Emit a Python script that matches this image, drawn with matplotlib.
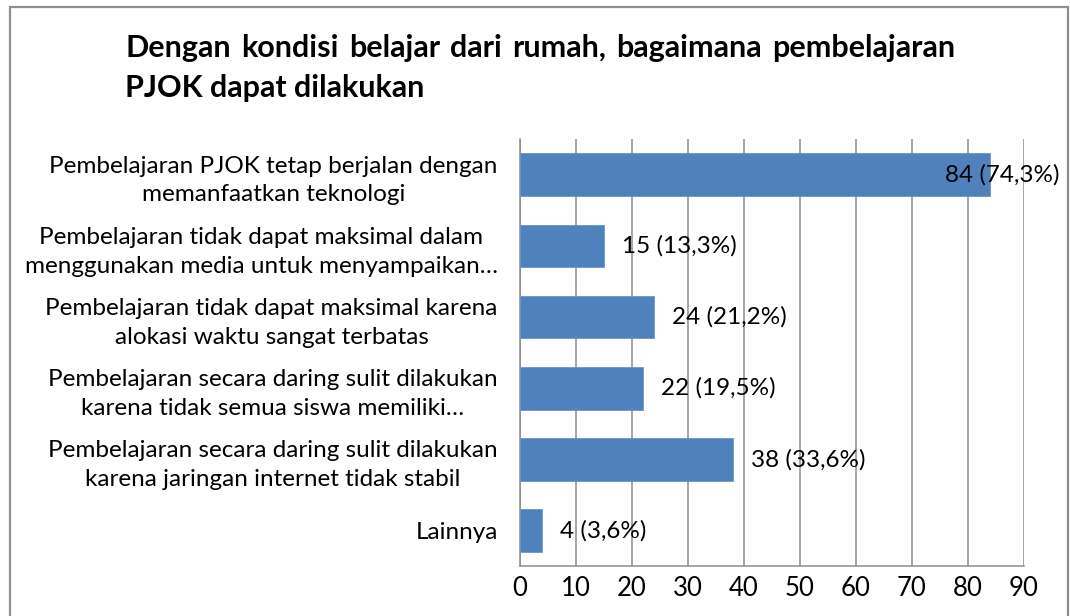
import matplotlib.pyplot as plt
from matplotlib.patches import Rectangle

plt.rcParams["font.family"] = ["Lato", "DejaVu Sans"]

# data, top to bottom as in the chart
categories = [
    "Pembelajaran PJOK tetap berjalan dengan\nmemanfaatkan teknologi",
    "Pembelajaran tidak dapat maksimal dalam\nmenggunakan media untuk menyampaikan…",
    "Pembelajaran tidak dapat maksimal karena\nalokasi waktu sangat terbatas",
    "Pembelajaran secara daring sulit dilakukan\nkarena tidak semua siswa memiliki…",
    "Pembelajaran secara daring sulit dilakukan\nkarena jaringan internet tidak stabil",
    "Lainnya",
]
counts = [84, 15, 24, 22, 38, 4]
percents = ["74,3%", "13,3%", "21,2%", "19,5%", "33,6%", "3,6%"]
x_ticks = [0, 10, 20, 30, 40, 50, 60, 70, 80, 90]

title_line1 = "Dengan kondisi belajar dari rumah, bagaimana pembelajaran"
title_line2 = "PJOK dapat dilakukan"

bar_color = "#4F81BD"
grid_color = "#8C8C8C"
fs = 17.5

fig = plt.figure(figsize=(10.7, 6.16), dpi=100)
ax = fig.add_axes([0.486, 0.081, 0.471, 0.693])

# outer chart border (bottom runs past the image)
fig.patches.append(Rectangle((0.0095, -0.05), 0.989, 1.039, transform=fig.transFigure,
                             fill=False, edgecolor="#8E8E8E", linewidth=1.6))

y = list(range(len(categories)))
ax.barh(y, counts, height=0.6, color=bar_color, edgecolor="#6C95C8", linewidth=0.6, zorder=3)
ax.set_ylim(len(categories) - 0.5, -0.5)
ax.set_xlim(0, 90)
ax.set_xticks(x_ticks)
ax.set_yticks(y)
ax.set_yticklabels(categories, fontsize=fs, multialignment="center", linespacing=1.45)
ax.tick_params(axis="x", labelsize=18.5, length=0, pad=7)
ax.tick_params(axis="y", length=0, pad=16)

ax.grid(axis="x", color=grid_color, linewidth=1.1, zorder=0)
for side in ["top", "right"]:
    ax.spines[side].set_visible(False)
for side in ["left", "bottom"]:
    ax.spines[side].set_color(grid_color)
    ax.spines[side].set_linewidth(1.1)

for i, (c, p) in enumerate(zip(counts, percents)):
    # the longest bar's label does not fit outside, so it sits over the bar end
    dx = -33 if c == max(counts) else 13
    ax.annotate(f"{c} ({p})", (c, i), xytext=(dx, 0), textcoords="offset points",
                ha="left", va="center", fontsize=fs, zorder=4)

# title: first line justified between the left and right edges of the block
x_left, x_right = 0.117, 0.893
words = title_line1.split(" ")
word_texts = [fig.text(0, 0.922, w, fontsize=22, fontweight="bold", ha="left", va="center")
              for w in words]
fig.canvas.draw()
r = fig.canvas.get_renderer()
widths = [t.get_window_extent(r).width / fig.bbox.width for t in word_texts]
gap = (x_right - x_left - sum(widths)) / (len(words) - 1)
x = x_left
for t, w in zip(word_texts, widths):
    t.set_x(x)
    x += w + gap
fig.text(x_left, 0.857, title_line2, fontsize=22, fontweight="bold", ha="left", va="center")

fig.savefig("out.png", dpi=100)
